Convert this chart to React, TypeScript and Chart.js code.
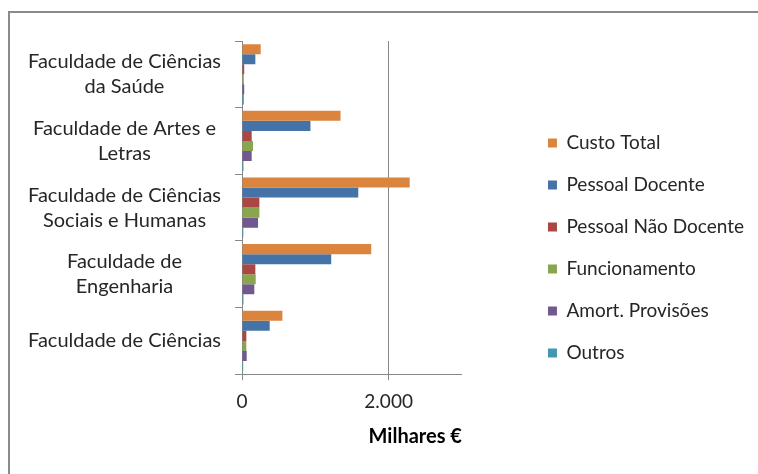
import React, { useEffect, useRef } from "react";
import { Chart, registerables } from "chart.js";

Chart.register(...registerables);

const categories: (string | string[])[] = [
  ["Faculdade de Ciências", "da Saúde"],
  ["Faculdade de Artes e", "Letras"],
  ["Faculdade de Ciências", "Sociais e Humanas"],
  ["Faculdade de", "Engenharia"],
  "Faculdade de Ciências",
];

const seriesNames = [
  "Custo Total",
  "Pessoal Docente",
  "Pessoal Não Docente",
  "Funcionamento",
  "Amort. Provisões",
  "Outros",
];

const custoTotal = [255, 1344, 2287, 1763, 551];
const pessoalDocente = [182, 934, 1586, 1217, 378];
const pessoalNaoDocente = [30, 132, 237, 182, 59];
const funcionamento = [25, 150, 237, 187, 59];
const amortProvisoes = [30, 132, 219, 168, 64];
const outros = [25, 20, 18, 20, 16];

const xTickValues = [0, 2000];
const xMax = 3000;
const xTitle = "Milhares €";

const colors = ["#DB843D", "#4572A7", "#AA4643", "#89A54E", "#71588F", "#4198AF"];

const FONT = "Lato, 'Open Sans', sans-serif";
const GRAY = "#878787";
const TEXT = "#262626";

function fmt(v: number): string {
  return String(v).replace(/\B(?=(\d{3})+(?!\d))/g, ".");
}

export default function App() {
  const ref = useRef<HTMLCanvasElement | null>(null);

  useEffect(() => {
    if (!ref.current) return;
    const values = [custoTotal, pessoalDocente, pessoalNaoDocente, funcionamento, amortProvisoes, outros];
    const chart = new Chart(ref.current, {
      type: "bar",
      data: {
        labels: categories as any,
        datasets: values.map((d, i) => ({
          label: seriesNames[i],
          data: d,
          backgroundColor: colors[i],
          borderWidth: 0,
          xAxisID: "x",
          yAxisID: "y",
          categoryPercentage: 0.905,
          barPercentage: 1,
        })),
      },
      options: {
        indexAxis: "y",
        animation: false,
        responsive: false,
        devicePixelRatio: 1,
        layout: { padding: { left: 0, right: 4, top: 41, bottom: 19 } },
        plugins: {
          tooltip: { enabled: false },
          legend: {
            position: "right",
            align: "center",
            maxWidth: 400,
            labels: {
              boxWidth: 9,
              boxHeight: 9,
              padding: 23,
              color: TEXT,
              font: { family: FONT, size: 19 },
            },
          },
        },
        scales: {
          x: {
            type: "linear",
            position: "bottom",
            min: 0,
            max: xMax,
            afterBuildTicks: (s: any) => {
              s.ticks = xTickValues.map((v) => ({ value: v }));
            },
            ticks: {
              color: TEXT,
              padding: 10,
              maxRotation: 0,
              font: { family: FONT, size: 19 },
              callback: (v: any) => fmt(Number(v)),
            },
            grid: { color: GRAY, tickLength: 6, drawTicks: true, lineWidth: 1 },
            border: { display: true, color: GRAY, width: 1 },
            title: {
              display: true,
              text: xTitle,
              align: "end",
              color: "#000",
              font: { family: FONT, size: 20, weight: "bold" },
              padding: { top: 2, bottom: 6 },
            },
          },
          y: {
            type: "category",
            position: "left",
            afterFit: (s: any) => {
              s.width = 242;
            },
            ticks: {
              color: TEXT,
              padding: 14,
              crossAlign: "center",
              autoSkip: false,
              font: { family: FONT, size: 20, lineHeight: 1.25 },
            },
            grid: {
              display: true,
              drawOnChartArea: false,
              drawTicks: true,
              tickLength: 7,
              color: GRAY,
              offset: true,
            },
            border: { display: true, color: GRAY, width: 1 },
          },
          gap: {
            type: "category",
            position: "right",
            display: true,
            afterFit: (s: any) => {
              s.width = 63;
            },
            ticks: { display: false },
            grid: { display: false },
            border: { display: false },
          },
        },
      } as any,
    });
    return () => chart.destroy();
  }, []);

  return (
    <div style={{ position: "absolute", left: 0, top: 0, width: 758, height: 474, overflow: "hidden", background: "#fff" }}>
      <div
        style={{
          position: "absolute",
          left: 8,
          top: 11,
          width: 760,
          height: 480,
          borderTop: "2px solid #8a8a8a",
          borderLeft: "2px solid #8a8a8a",
        }}
      />
      <canvas ref={ref} width={758} height={474} style={{ position: "absolute", left: 0, top: 0 }} />
    </div>
  );
}
